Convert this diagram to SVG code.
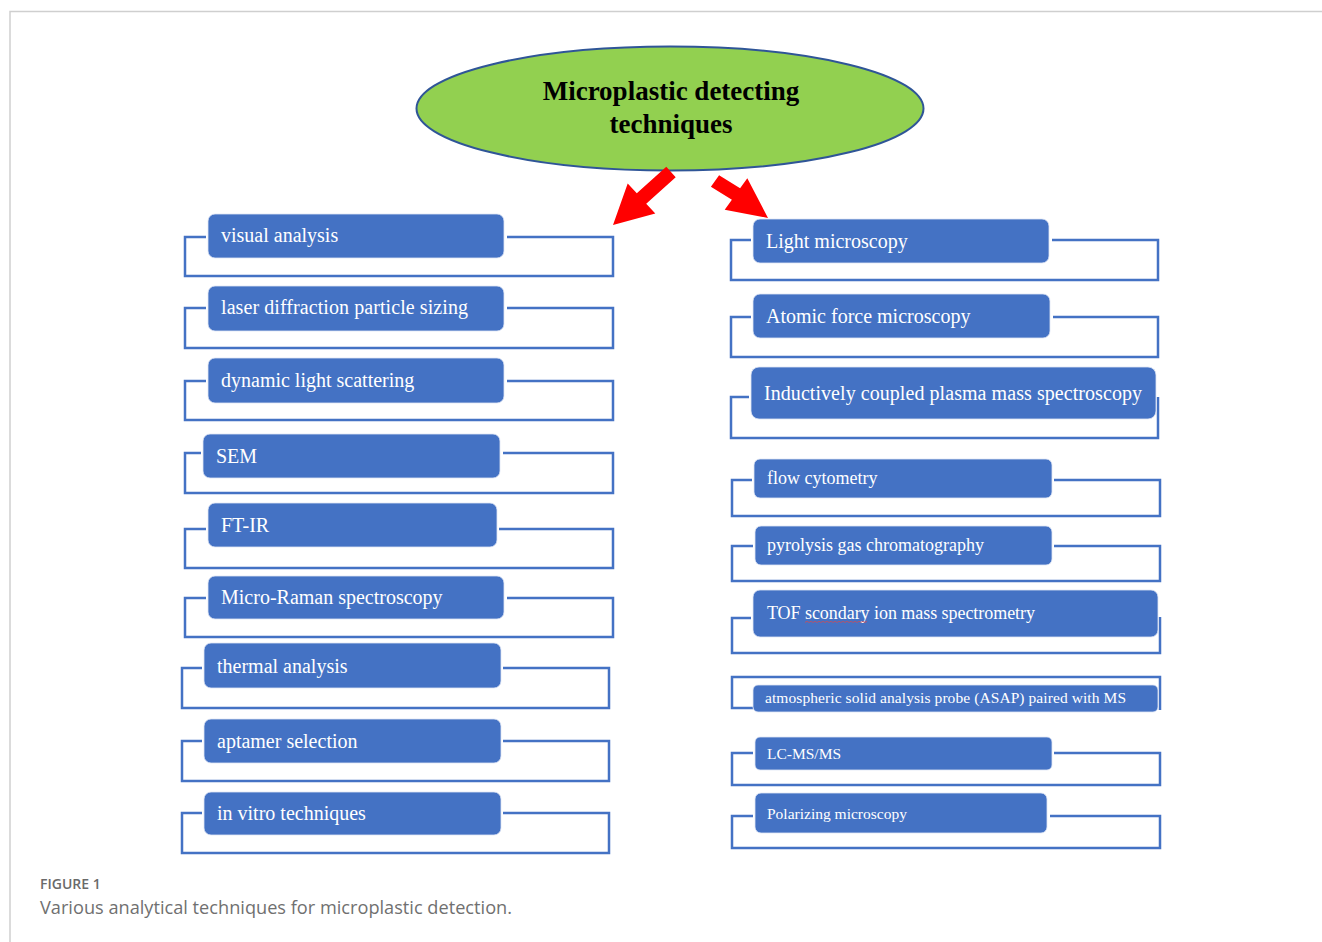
<svg xmlns="http://www.w3.org/2000/svg" width="1322" height="942" viewBox="0 0 1322 942">
<style>
.frame{fill:none;stroke:#cfcfcf;stroke-width:1.5}
.br{fill:none;stroke:#4472c4;stroke-width:2.5}
.box{fill:#4472c4;stroke:#dfe6f5;stroke-width:0.8}
.t{font-family:"Liberation Serif","Times New Roman",serif;fill:#ffffff}
.t20{font-size:20px}
.t18{font-size:18px}
.t15{font-size:15.5px}
.arrow{fill:#ff0000}
.title{font-family:"Liberation Serif","Times New Roman",serif;font-weight:bold;font-size:27px;fill:#000000}
.cap1{font-family:"Open Sans","Liberation Sans",sans-serif;font-weight:600;font-size:14px;fill:#6a6a6a}
.cap2{font-family:"Open Sans","Liberation Sans",sans-serif;font-size:17.5px;fill:#707070}
</style>
<rect width="1322" height="942" fill="#ffffff"/>
<path class="frame" d="M10,942 V11.5 H1322"/>

<g id="root">
<ellipse cx="670" cy="108.5" rx="253.5" ry="62" fill="#92d050" stroke="#2f5597" stroke-width="2"/>
<text class="title" x="671" y="100" text-anchor="middle">Microplastic detecting</text>
<text class="title" x="671" y="133" text-anchor="middle">techniques</text>
</g>

<g id="connectors">
<polygon class="arrow" points="666.3,166.8 675.7,177.2 646.2,203.7 655.3,213.6 613,225 627.7,183.4 636.8,193.3"/>
<polygon class="arrow" points="719.1,175.3 740.1,188.3 747.3,178.2 768,218 724.7,209.8 731.9,199.7 710.9,186.7"/>
</g>

<g id="left-visual">
<path class="br" d="M206,237 H185 V276 H613 V237 H507"/>
<rect class="box" x="208" y="214" width="296" height="44" rx="7"/>
<text class="t t20" x="221" y="242">visual analysis</text>
</g>
<g id="left-laser">
<path class="br" d="M206,308 H185 V348 H613 V308 H507"/>
<rect class="box" x="208" y="286" width="296" height="45" rx="7"/>
<text class="t t20" x="221" y="314" textLength="247" lengthAdjust="spacing">laser diffraction particle sizing</text>
</g>
<g id="left-dls">
<path class="br" d="M206,381 H185 V420 H613 V381 H507"/>
<rect class="box" x="208" y="358" width="296" height="45" rx="7"/>
<text class="t t20" x="221" y="387">dynamic light scattering</text>
</g>
<g id="left-sem">
<path class="br" d="M201,453 H185 V493 H613 V453 H503"/>
<rect class="box" x="203" y="434" width="297" height="44" rx="7"/>
<text class="t t20" x="216" y="463">SEM</text>
</g>
<g id="left-ftir">
<path class="br" d="M206,529 H185 V568 H613 V529 H499"/>
<rect class="box" x="208" y="503" width="289" height="44" rx="7"/>
<text class="t t20" x="221" y="532">FT-IR</text>
</g>
<g id="left-raman">
<path class="br" d="M206,598 H185 V637 H613 V598 H507"/>
<rect class="box" x="208" y="576" width="296" height="43" rx="7"/>
<text class="t t20" x="221" y="604">Micro-Raman spectroscopy</text>
</g>
<g id="left-thermal">
<path class="br" d="M202,668 H182 V708 H609 V668 H503"/>
<rect class="box" x="204" y="643" width="297" height="45" rx="7"/>
<text class="t t20" x="217" y="673">thermal analysis</text>
</g>
<g id="left-aptamer">
<path class="br" d="M202,741 H182 V781 H609 V741 H503"/>
<rect class="box" x="204" y="719" width="297" height="44" rx="7"/>
<text class="t t20" x="217" y="748">aptamer selection</text>
</g>
<g id="left-invitro">
<path class="br" d="M202,813 H182 V853 H609 V813 H503"/>
<rect class="box" x="204" y="792" width="297" height="43" rx="7"/>
<text class="t t20" x="217" y="820">in vitro techniques</text>
</g>

<g id="right-light">
<path class="br" d="M751,240 H731 V280 H1158 V240 H1052"/>
<rect class="box" x="753" y="219" width="296" height="44" rx="7"/>
<text class="t t20" x="766" y="248">Light microscopy</text>
</g>
<g id="right-afm">
<path class="br" d="M751,317 H731 V357 H1158 V317 H1053"/>
<rect class="box" x="753" y="294" width="297" height="44" rx="7"/>
<text class="t t20" x="766" y="323">Atomic force microscopy</text>
</g>
<g id="right-icpms">
<path class="br" d="M749,397 H731 V438 H1158 V397"/>
<rect class="box" x="751" y="367" width="405" height="52" rx="8"/>
<text class="t t20" x="764" y="400" textLength="378" lengthAdjust="spacing">Inductively coupled plasma mass spectroscopy</text>
</g>
<g id="right-flow">
<path class="br" d="M752,480 H732 V516 H1160 V480 H1054"/>
<rect class="box" x="754" y="459" width="298" height="39" rx="6"/>
<text class="t t18" x="767" y="484">flow cytometry</text>
</g>
<g id="right-pyrolysis">
<path class="br" d="M753,546 H732 V581 H1160 V546 H1054"/>
<rect class="box" x="755" y="526" width="297" height="39" rx="6"/>
<text class="t t18" x="767" y="551">pyrolysis gas chromatography</text>
</g>
<g id="right-tof">
<path class="br" d="M751,618 H732 V653 H1160 V617"/>
<rect class="box" x="753" y="590" width="405" height="47" rx="7"/>
<text class="t t18" x="767" y="619" textLength="268" lengthAdjust="spacing">TOF scondary ion mass spectrometry</text>
<path d="M805,622.5 l2,-1.2 l2,1.2 l2,-1.2 l2,1.2 l2,-1.2 l2,1.2 l2,-1.2 l2,1.2 l2,-1.2 l2,1.2 l2,-1.2 l2,1.2 l2,-1.2 l2,1.2 l2,-1.2 l2,1.2 l2,-1.2 l2,1.2 l2,-1.2 l2,1.2 l2,-1.2 l2,1.2 l2,-1.2 l2,1.2 l2,-1.2 l2,1.2 l2,-1.2 l2,1.2 l2,-1.2 l2,1.2 l2,-1.2" fill="none" stroke="#e04848" stroke-width="0.7"/>
</g>
<g id="right-asap">
<path class="br" d="M753,708 H732 V677 H1160 V710"/>
<rect class="box" x="753" y="685" width="405" height="27" rx="5"/>
<text class="t t15" x="765" y="703" textLength="361" lengthAdjust="spacing">atmospheric solid analysis probe (ASAP) paired with MS</text>
</g>
<g id="right-lcms">
<path class="br" d="M753,753 H732 V785 H1160 V753 H1054"/>
<rect class="box" x="755" y="737" width="297" height="33" rx="5"/>
<text class="t t15" x="767" y="759">LC-MS/MS</text>
</g>
<g id="right-polarizing">
<path class="br" d="M753,816 H732 V848 H1160 V816 H1050"/>
<rect class="box" x="755" y="793" width="292" height="40" rx="6"/>
<text class="t t15" x="767" y="819">Polarizing microscopy</text>
</g>

<g id="caption">
<text class="cap1" x="40" y="889">FIGURE 1</text>
<text class="cap2" x="40" y="914" textLength="472" lengthAdjust="spacingAndGlyphs">Various analytical techniques for microplastic detection.</text>
</g>
</svg>
